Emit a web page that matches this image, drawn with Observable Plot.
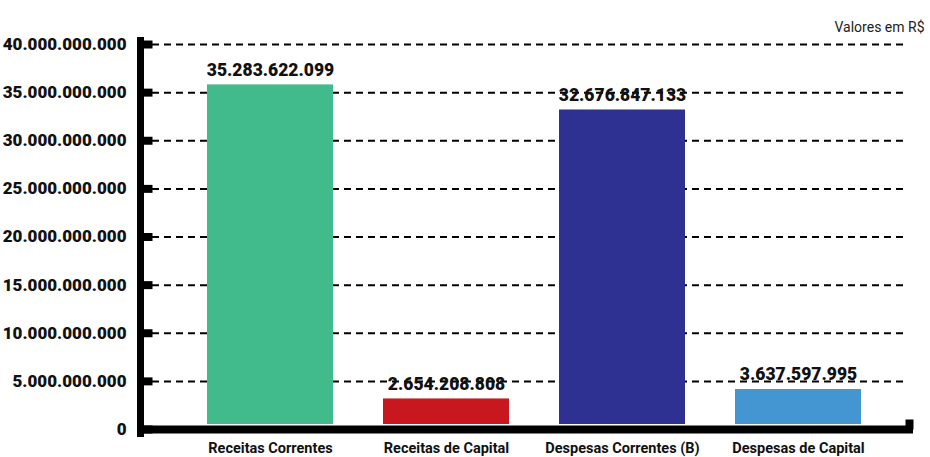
<!DOCTYPE html>
<html>
<head>
<meta charset="utf-8">
<script src="https://cdn.jsdelivr.net/npm/d3@7"></script>
<script src="https://cdn.jsdelivr.net/npm/@observablehq/plot@0.6"></script>
<style>
  html, body { margin: 0; padding: 0; background: #ffffff; }
  #chart svg {
    display: block;
    background: linear-gradient(#ffffff 0 9px, #d4edf9 9px);
    font-family: Roboto, "Liberation Sans", sans-serif;
  }
</style>
</head>
<body>
<div id="chart"></div>
<script>
const categories = ["Receitas Correntes", "Receitas de Capital", "Despesas Correntes (B)", "Despesas de Capital"];
const values = [35283622099, 2654208808, 32676847133, 3637597995];
const colors = ["#41bb8c", "#c8171f", "#2e3192", "#4496d3"];
const yTicks = [0, 5e9, 10e9, 15e9, 20e9, 25e9, 30e9, 35e9, 40e9];
const unitNote = "Valores em R$";

const data = categories.map((c, i) => ({cat: c, value: values[i]}));
const br = d3.formatLocale({decimal: ",", thousands: ".", grouping: [3], currency: ["R$", ""]});
const fmt = br.format(",d");

const stub = {draw(ctx, l) { ctx.moveTo(0, 0); ctx.lineTo(0, -l); }};

const chart = Plot.plot({
  width: 930,
  height: 457,
  marginTop: 40,
  marginBottom: 24,
  marginLeft: 140,
  marginRight: 17,
  style: {background: "transparent", overflow: "visible"},
  x: {domain: categories, paddingInner: 0.284, paddingOuter: 0.338, align: 0.563, label: null},
  y: {domain: [0, 40e9], insetTop: 4, insetBottom: 4, label: null},
  color: {domain: categories, range: colors},
  marks: [
    Plot.ruleY(yTicks.filter(t => t > 0), {stroke: "#000", strokeWidth: 2, strokeDasharray: "7,5", insetLeft: 12, insetRight: 8}),
    Plot.barY(data, {x: "cat", y: "value", fill: "cat", dy: -5}),
    Plot.text(data, {x: "cat", y: "value", text: d => fmt(d.value), dy: -14, lineAnchor: "bottom",
      fontSize: 17.5, fontWeight: 900, fill: "#111"}),
    Plot.vector(yTicks, {y: d => d, frameAnchor: "left", rotate: 90, length: 12, anchor: "start",
      shape: stub, stroke: "#000", strokeWidth: 8, strokeLinecap: "butt"}),
    Plot.frame({anchor: "left", stroke: "#000", strokeWidth: 7}),
    Plot.ruleY([0], {stroke: "#000", strokeWidth: 8}),
    Plot.vector([0], {y: d => d, frameAnchor: "right", rotate: 0, length: 10, anchor: "start", dx: -4,
      shape: stub, stroke: "#000", strokeWidth: 8, strokeLinecap: "butt"}),
    Plot.axisY(yTicks, {tickSize: 0, tickPadding: 14, tickFormat: fmt, fontSize: 17, fontWeight: 900, fill: "#111", label: null}),
    Plot.axisX({tickSize: 0, tickPadding: 9, fontSize: 14.5, fontWeight: "bold", fill: "#111", label: null}),
    Plot.text([unitNote], {frameAnchor: "top-right", textAnchor: "end", dx: 11, dy: -18, fontSize: 14, fill: "#222"})
  ]
});
document.getElementById("chart").appendChild(chart);
</script>
</body>
</html>
